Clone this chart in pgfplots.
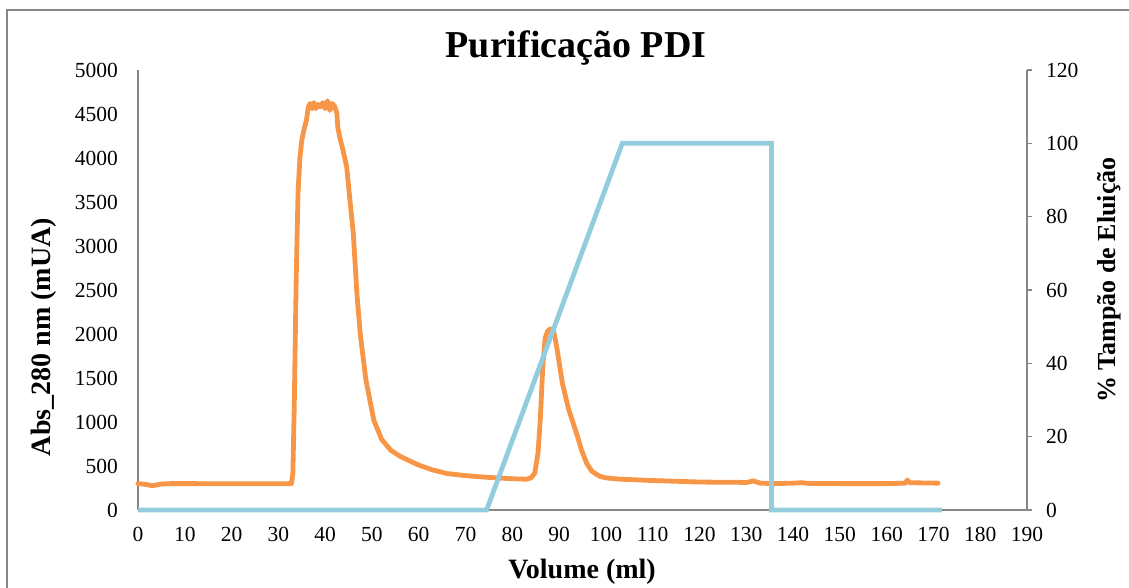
\documentclass[border=0pt]{standalone}
\usepackage{pgfplots}
\pgfplotsset{compat=1.18}
\usepackage{fontspec}
\setmainfont{Liberation Serif}
\definecolor{orangeS}{HTML}{F79646}
\definecolor{blueS}{HTML}{93CDDD}
\definecolor{axgray}{HTML}{868686}
\begin{document}
\begin{tikzpicture}[x=1pt,y=1pt]
\path[use as bounding box] (0,0) rectangle (1129,587);
\draw[axgray,line width=1.5pt] (7,-5) -- (7,577) -- (1140,577);
\begin{axis}[
  at={(138pt,77pt)}, anchor=south west,
  scale only axis, width=889pt, height=440pt,
  xmin=0, xmax=190, ymin=0, ymax=5000,
  xtick={0,10,...,190}, ytick={0,500,...,5000},
  axis x line*=bottom, axis y line*=left,
  axis line style={axgray, line width=1.5pt, -},
  major tick length=0pt,
  scaled y ticks=false,
  /pgf/number format/assume math mode=true,
  /pgf/number format/1000 sep={},
  tick label style={font=\fontsize{21.5}{24}\selectfont, inner sep=0pt},
  xticklabel style={anchor=center, yshift=-24pt},
  yticklabel style={anchor=east, xshift=-20pt},
  clip=false,
]
\addplot[orangeS, line width=4.8pt, line join=round, line cap=round] coordinates {
(0,300) (1,295) (2,288) (3,275) (4,285) (5,295) (7,300) (10,300) (20,298) (30,298) (32.8,300)
(33.1,420) (33.4,1200) (33.8,2600) (34.2,3600) (34.6,4000) (35.0,4200) (35.5,4330) (36.0,4430)
(36.4,4580) (36.8,4620) (37.2,4560) (37.6,4630) (38.0,4560) (38.5,4610) (39.0,4580) (39.5,4630)
(40.0,4560) (40.5,4650) (41.0,4540) (41.5,4620) (42.0,4590) (42.5,4510) (42.7,4350) (43.1,4240)
(43.8,4090) (44.6,3900) (45.3,3520) (46.0,3150) (46.8,2450) (47.5,2000) (48.7,1480) (50.4,1020)
(52.1,800) (54,680) (56,610) (60,510) (63,455) (66,415) (70,390) (75,370) (80,355) (83,350)
(84,365) (84.8,420) (85.5,650) (86,1050) (86.5,1620) (87,1950) (87.5,2030) (88.2,2060) (88.8,2040)
(89.5,1850) (90.7,1440) (92,1150) (93.7,875) (94.8,680) (95.9,530) (97,440) (98.6,385) (100,365)
(103,350) (110,335) (120,318) (125,315) (128,315) (130,312) (131.5,330) (132,322) (133,305)
(136,300) (140,305) (142,310) (143,303) (150,300) (160,300) (164,305) (164.4,340) (165,310) (171,305)
};
\end{axis}
\begin{axis}[
  at={(138pt,77pt)}, anchor=south west,
  scale only axis, width=889pt, height=440pt,
  xmin=0, xmax=190, ymin=0, ymax=120,
  ytick={0,20,...,120},
  axis x line=none, axis y line*=right,
  axis line style={axgray, line width=1.5pt, -},
  tick style={axgray, line width=1.5pt},
  tick align=outside, major tick length=5pt,
  /pgf/number format/assume math mode=true,
  tick label style={font=\fontsize{21.5}{24}\selectfont, inner sep=0pt},
  yticklabel style={anchor=west, xshift=14pt},
  clip=false,
]
\addplot[blueS, line width=4.8pt, line join=miter] coordinates {
(0,0) (74.5,0) (103.5,100) (135.4,100) (135.4,0) (171.8,0)
};
\end{axis}
\node[anchor=base, font=\fontsize{38}{44}\selectfont\bfseries] at (576,529) {Purificação PDI};
\node[anchor=base, font=\fontsize{28}{32}\selectfont\bfseries] at (582,9) {Volume (ml)};
\node[rotate=90, font=\fontsize{28}{32}\selectfont\bfseries] at (44,250) {Abs\_280 nm (mUA)};
\node[rotate=90, font=\fontsize{26}{30}\selectfont\bfseries] at (1109,307) {\% Tampão de Eluição};
\end{tikzpicture}
\end{document}
